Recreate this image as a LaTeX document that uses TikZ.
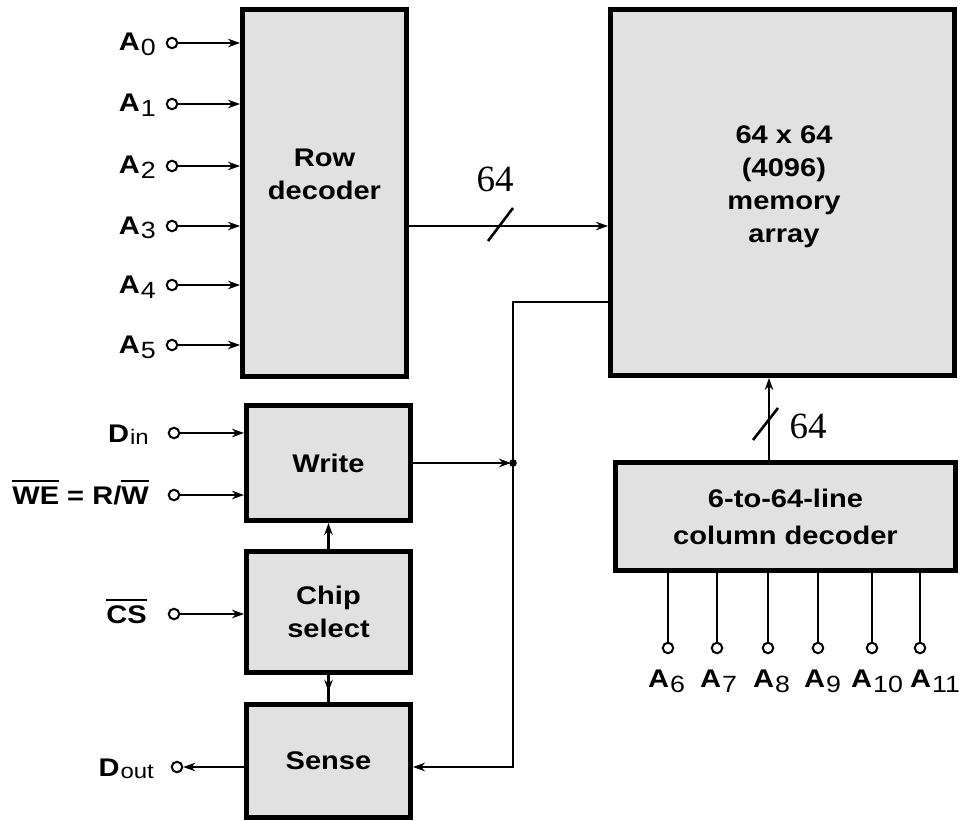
\documentclass[tikz,border=0pt]{standalone}
\usepackage{fontspec}
\setmainfont{Liberation Sans}[FakeStretch=1.14]
\newfontfamily\numfont{Liberation Serif}
\usetikzlibrary{arrows.meta,calc}
\definecolor{boxgray}{RGB}{225,225,225}
\newcommand\subd[1]{\kern1pt\raisebox{-5pt}{\fontsize{23.5}{23.5}\selectfont\mdseries #1}}
\newcommand\subt[1]{\kern1pt\raisebox{-2pt}{\fontsize{21}{21}\selectfont\mdseries #1}}
\newcommand\ovl[1]{\vbox{\hrule height 2.5pt\kern 4pt\hbox{#1}}}
\begin{document}
\begin{tikzpicture}[x=1pt,y=-1pt,
  lbl/.style={font=\bfseries\fontsize{25.5}{33}\selectfont, align=center, inner sep=0pt},
  box/.style={lbl, draw, line width=5pt, fill=boxgray},
  pin/.style={circle, draw, line width=2pt, fill=white, minimum size=10.5pt, inner sep=0pt},
  wire/.style={line width=2.3pt},
  arr/.style={wire, -{Stealth[length=12pt,width=8.5pt]}},
  slash/.style={line width=2.6pt},
  numlbl/.style={font=\numfont\fontsize{37}{40}\selectfont, inner sep=0pt},
  ]
\useasboundingbox (0,0) rectangle (961,821);

% blocks
\node[box, minimum width=164pt, minimum height=367pt] (rowdec) at (324.5,193) {};
\node[lbl] (rowtxt) at (324.5,174.5) {Row\\decoder};
\node[box, minimum width=344pt, minimum height=366pt] (mem) at (782.5,192.5) {};
\node[lbl] (memtxt) at (784,187) {64 x 64\\(4096)\\memory\\array};
\node[box, minimum width=164pt, minimum height=115pt] (write) at (328.5,463) {Write};
\node[box, minimum width=164pt, minimum height=121pt] (chip) at (328.5,612) {Chip\\select};
\node[box, minimum width=164pt, minimum height=113pt] (sense) at (328.5,761) {Sense};
\node[box, minimum width=340pt, minimum height=108pt, font=\bfseries\fontsize{25.5}{37}\selectfont] (coldec) at (785.5,516.5) {6-to-64-line\\column decoder};

% row address inputs
\foreach \i/\y in {0/43,1/104,2/166,3/226,4/285,5/345}{
  \node[pin] (a\i) at (172,\y) {};
  \node[lbl, anchor=base east] (la\i) at (156,\y+8) {A\subd{\i}};
  \draw[arr] (a\i) -- (a\i -| rowdec.west);
}

% row decoder to memory
\draw[arr] (a3 -| rowdec.east) -- (a3 -| mem.west);
\draw[slash] (488,241) -- (513,208);
\node[numlbl, anchor=base] (n64a) at (495,192) {64};

% control inputs
\node[pin] (din) at (174,433) {};
\node[pin] (we) at (174,495) {};
\node[pin] (cs) at (174,614) {};
\node[pin] (dout) at (177,767) {};
\node[lbl, anchor=base east] (ldin) at (149,442) {D\subt{in}};
\node[lbl, anchor=base east] (lwe) at (149,504) {\ovl{WE} = R/\ovl{W}};
\node[lbl, anchor=base east] (lcs) at (147,623) {\ovl{CS}};
\node[lbl, anchor=base east] (ldout) at (154,776) {D\subt{out}};
\draw[arr] (din) -- (din -| write.west);
\draw[arr] (we) -- (we -| write.west);
\draw[arr] (cs) -- (cs -| chip.west);
\draw[arr] (sense.west |- dout) -- (dout);

% chip select links
\draw[arr] (chip.north) -- (write.south);
\draw[wire] (chip.south) -- (sense.north);
\draw[arr] (chip.south) -- ($(chip.south)!0.62!(sense.north)$);

% data bus
\coordinate (j) at ($(write.east)+(100,0)$);
\coordinate (m302) at (0,302);
\draw[wire] (mem.west |- m302) -| (j);
\draw[arr, shorten >=2pt] (write.east) -- (j);
\fill (j) circle (3.8);
\draw[arr] (j) |- (sense.east |- dout);

% column decoder to memory
\coordinate (cx) at (769,0);
\draw[arr] (cx |- coldec.north) -- (cx |- mem.south);
\draw[slash] (753,440) -- (778,408);
\node[numlbl, anchor=base] (n64b) at (808,438) {64};

% column address inputs
\foreach \i/\x/\lx in {6/668/648,7/717/700,8/768/753,9/818/804,10/872/851,11/920/910}{
  \node[pin] (p\i) at (\x,648) {};
  \draw[wire] (p\i) -- (p\i |- coldec.south);
  \node[lbl, anchor=base west] (lp\i) at (\lx,687) {A\subd{\i}};
}
\end{tikzpicture}
\end{document}
